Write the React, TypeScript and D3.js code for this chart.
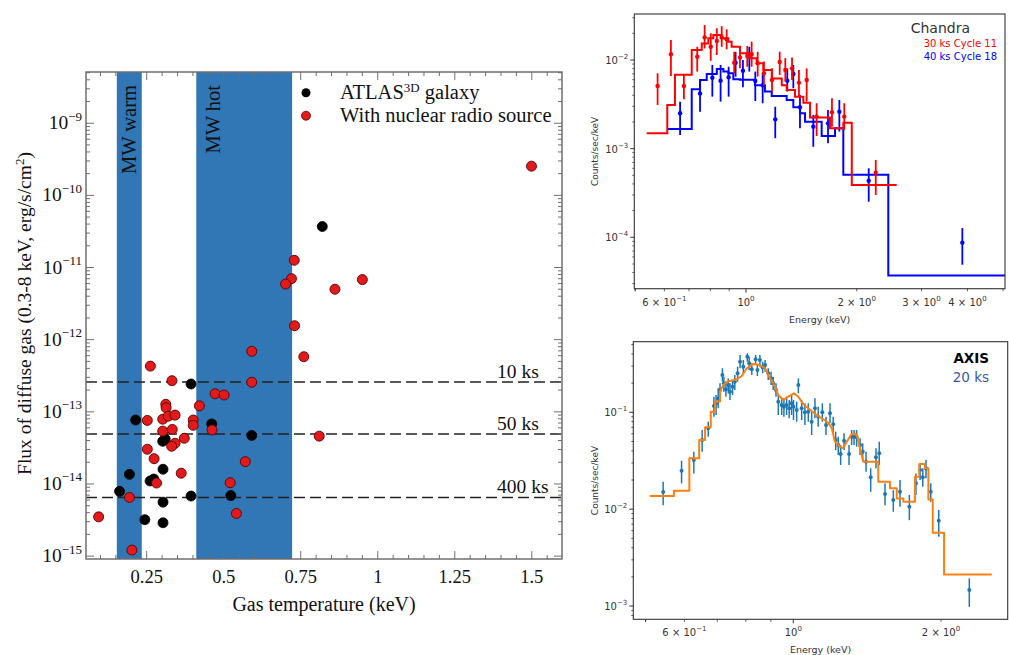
import React from 'react';
import * as d3 from 'd3';

// ---------- left panel: flux of diffuse gas vs gas temperature ----------
// [temperature keV, flux erg/s/cm^2]
const atlasPts: [number, number][] = [
  [0.820, 3.7e-11], [0.394, 2.43e-13], [0.214, 7.7e-14], [0.461, 6.8e-14], [0.591, 4.7e-14],
  [0.310, 4.2e-14], [0.302, 3.9e-14], [0.194, 1.36e-14], [0.303, 1.6e-14], [0.273, 1.17e-14],
  [0.261, 1.1e-14], [0.162, 7.9e-15], [0.394, 6.8e-15], [0.523, 6.9e-15], [0.303, 5.6e-15],
  [0.244, 3.2e-15], [0.303, 2.9e-15],
];
const radioPts: [number, number][] = [
  [1.499, 2.54e-10], [0.729, 1.26e-11], [0.720, 7.0e-12], [0.701, 5.9e-12], [0.861, 5.0e-12],
  [0.950, 6.8e-12], [0.730, 1.56e-12], [0.760, 5.8e-13], [0.810, 4.6e-14], [0.591, 6.9e-13],
  [0.262, 4.3e-13], [0.332, 2.7e-13], [0.591, 2.57e-13], [0.472, 1.78e-13], [0.501, 1.71e-13],
  [0.421, 1.21e-13], [0.312, 1.27e-13], [0.313, 1.14e-13], [0.252, 7.6e-14], [0.302, 7.9e-14],
  [0.320, 8.7e-14], [0.342, 9.0e-14], [0.401, 7.7e-14], [0.401, 6.5e-14], [0.462, 5.6e-14],
  [0.302, 5.4e-14], [0.333, 5.7e-14], [0.372, 4.3e-14], [0.342, 3.66e-14], [0.331, 3.33e-14],
  [0.252, 3.03e-14], [0.274, 2.24e-14], [0.570, 2.04e-14], [0.362, 1.41e-14], [0.282, 1.03e-14],
  [0.521, 1.04e-14], [0.194, 6.5e-15], [0.541, 3.9e-15], [0.094, 3.5e-15], [0.202, 1.21e-15],
];
const mwBandNames = ['MW warm', 'MW hot'];
const mwBandLo = [0.153, 0.411];
const mwBandHi = [0.234, 0.722];
const depthLabels = ['10 ks', '50 ks', '400 ks'];
const depthFlux = [2.59e-13, 4.93e-14, 6.5e-15];
const tempTicks = [0.25, 0.5, 0.75, 1, 1.25, 1.5];
const tempTickLabels = ['0.25', '0.5', '0.75', '1', '1.25', '1.5'];
const fluxDecades = [-15, -14, -13, -12, -11, -10, -9];

// ---------- top right: Chandra spectrum ----------
const chRedEdges = [0.537, 0.611, 0.641, 0.712, 0.758, 0.790, 0.815, 0.859, 0.895, 0.914, 0.963, 1.025,
  1.069, 1.114, 1.175, 1.251, 1.290, 1.359, 1.432, 1.493, 1.692, 1.839, 1.939, 2.569];
const chRedModel = [1.49e-3, 3.1e-3, 6.8e-3, 1.3e-2, 1.54e-2, 1.76e-2, 1.91e-2, 1.76e-2, 1.61e-2, 1.41e-2,
  1.19e-2, 1.05e-2, 9.2e-3, 7.7e-3, 6.2e-3, 5.2e-3, 4.6e-3, 3.86e-3, 3.3e-3, 2.24e-3, 1.70e-3, 1.96e-3, 3.9e-4];
const chBlueEdges = [0.611, 0.712, 0.750, 0.782, 0.833, 0.868, 0.895, 0.924, 0.963, 1.058, 1.126, 1.175,
  1.290, 1.345, 1.402, 1.447, 1.606, 1.746, 1.839, 2.437, 5.06];
const chBlueModel = [1.67e-3, 4.67e-3, 5.95e-3, 6.95e-3, 7.9e-3, 7.4e-3, 7.1e-3, 6.05e-3, 6.0e-3, 5.2e-3,
  4.4e-3, 3.93e-3, 3.54e-3, 2.93e-3, 2.5e-3, 2.01e-3, 1.39e-3, 1.70e-3, 5.06e-4, 3.7e-5];
// [energy, rate, low, high]
const chRedPts: number[][] = [
  [0.575, 5.1e-3, 3.11e-3, 7.08e-3], [0.625, 1.16e-2, 6.6e-3, 1.68e-2], [0.678, 5.1e-3, 3.6e-3, 6.95e-3],
  [0.737, 1.09e-2, 7.4e-3, 1.41e-2], [0.772, 1.80e-2, 1.35e-2, 2.48e-2], [0.802, 1.41e-2, 9.8e-3, 2.0e-2],
  [0.833, 1.64e-2, 1.14e-2, 2.28e-2], [0.859, 1.80e-2, 1.41e-2, 2.41e-2], [0.886, 1.71e-2, 1.32e-2, 2.22e-2],
  [0.929, 9.3e-3, 7.08e-3, 1.24e-2], [0.963, 1.07e-2, 8.05e-3, 1.41e-2], [1.008, 1.11e-2, 8.4e-3, 1.44e-2],
  [1.036, 1.16e-2, 8.4e-3, 1.61e-2], [1.076, 9.2e-3, 6.5e-3, 1.24e-2], [1.119, 7.08e-3, 5.2e-3, 9.6e-3],
  [1.177, 5.95e-3, 4.4e-3, 8.05e-3], [1.235, 9.5e-3, 6.8e-3, 1.24e-2], [1.279, 7.7e-3, 5.7e-3, 1.05e-2],
  [1.334, 8.05e-3, 5.95e-3, 1.07e-2], [1.393, 5.55e-3, 3.86e-3, 7.7e-3], [1.462, 5.95e-3, 3.39e-3, 8.05e-3],
  [1.556, 2.3e-3, 1.39e-3, 3.25e-3], [1.713, 2.57e-3, 1.77e-3, 3.7e-3], [1.850, 2.3e-3, 1.63e-3, 3.25e-3],
  [2.253, 5.36e-4, 3.0e-4, 7.46e-4],
];
const chBluePts: number[][] = [
  [0.662, 2.51e-3, 1.43e-3, 3.39e-3], [0.750, 4.2e-3, 2.61e-3, 5.95e-3], [0.810, 6.3e-3, 3.86e-3, 8.8e-3],
  [0.853, 5.85e-3, 3.39e-3, 8.8e-3], [0.897, 6.38e-3, 3.86e-3, 8.4e-3], [0.937, 9.3e-3, 6.5e-3, 1.24e-2],
  [0.981, 7.57e-3, 4.92e-3, 1.0e-2], [1.021, 1.11e-2, 7.4e-3, 1.41e-2], [1.060, 5.8e-3, 3.45e-3, 7.4e-3],
  [1.110, 5.2e-3, 3.25e-3, 7.08e-3], [1.201, 2.14e-3, 1.31e-3, 2.97e-3], [1.295, 5.85e-3, 4.4e-3, 8.05e-3],
  [1.345, 6.95e-3, 4.8e-3, 8.8e-3], [1.402, 2.93e-3, 1.70e-3, 4.03e-3], [1.524, 1.77e-3, 1.05e-3, 2.4e-3],
  [1.671, 1.93e-3, 1.15e-3, 2.73e-3], [1.794, 2.61e-3, 1.56e-3, 3.54e-3], [2.156, 4.35e-4, 2.52e-4, 6.0e-4],
  [3.874, 8.7e-5, 4.9e-5, 1.27e-4],
];
const chXLabels: [number, string, string][] = [[0.6, '6 × 10', '−1'], [1, '10', '0'], [2, '2 × 10', '0'], [3, '3 × 10', '0'], [4, '4 × 10', '0']];
const chYDecades = [-4, -3, -2];

// ---------- bottom right: AXIS simulated spectrum ----------
const axisModel: [number, number][] = [
  [0.510, 1.365e-2], [0.571, 1.365e-2], [0.571, 1.55e-2], [0.614, 1.55e-2], [0.614, 3.35e-2],
  [0.643, 3.35e-2], [0.643, 5.18e-2], [0.661, 5.18e-2], [0.661, 7.0e-2], [0.679, 7.0e-2],
  [0.679, 0.1015], [0.693, 0.1015], [0.693, 0.129], [0.709, 0.129], [0.709, 0.165], [0.720, 0.19],
  [0.732, 0.207], [0.767, 0.219], [0.785, 0.237], [0.804, 0.285], [0.829, 0.316], [0.855, 0.308],
  [0.876, 0.285], [0.889, 0.243], [0.910, 0.1995], [0.932, 0.151], [0.954, 0.134], [0.977, 0.145],
  [1.003, 0.157], [1.024, 0.145], [1.048, 0.121], [1.073, 0.110], [1.116, 0.0938], [1.151, 0.0847],
  [1.178, 0.0781], [1.198, 0.0684], [1.216, 0.0497], [1.245, 0.0441], [1.264, 0.0425], [1.285, 0.0497],
  [1.315, 0.0597], [1.346, 0.0593], [1.368, 0.0425], [1.389, 0.0309], [1.490, 0.0309], [1.490, 0.0192],
  [1.574, 0.0192], [1.574, 0.0164], [1.625, 0.0164], [1.625, 0.0129], [1.676, 0.0129], [1.676, 0.0119],
  [1.770, 0.0119], [1.770, 0.0216], [1.806, 0.0216], [1.806, 0.0292], [1.855, 0.0292], [1.855, 0.0264],
  [1.885, 0.0264], [1.885, 0.0126], [1.924, 0.0126], [1.924, 0.0057], [2.029, 0.0057], [2.029, 0.00212],
  [2.538, 0.00212],
];
const axisPts: number[][] = [
  [0.543, 0.0150, 0.0110, 0.0192], [0.592, 0.0249, 0.0185, 0.0316], [0.627, 0.0321, 0.0234, 0.0392],
  [0.652, 0.0518, 0.0392, 0.0656], [0.671, 0.0684, 0.056, 0.080], [0.689, 0.116, 0.0901, 0.145],
  [0.696, 0.124, 0.0938, 0.151], [0.703, 0.1396, 0.110, 0.177], [0.709, 0.170, 0.1396, 0.1995],
  [0.717, 0.243, 0.207, 0.285], [0.722, 0.1995, 0.163, 0.233], [0.729, 0.173, 0.145, 0.207],
  [0.737, 0.191, 0.157, 0.224], [0.743, 0.163, 0.134, 0.1995], [0.752, 0.184, 0.151, 0.215],
  [0.760, 0.207, 0.170, 0.243], [0.770, 0.253, 0.207, 0.296], [0.779, 0.333, 0.285, 0.391],
  [0.791, 0.296, 0.253, 0.347], [0.806, 0.375, 0.333, 0.407], [0.813, 0.321, 0.274, 0.375],
  [0.823, 0.278, 0.243, 0.321], [0.838, 0.353, 0.308, 0.391], [0.845, 0.274, 0.237, 0.308],
  [0.855, 0.347, 0.296, 0.391], [0.866, 0.292, 0.253, 0.333], [0.876, 0.308, 0.263, 0.347],
  [0.889, 0.253, 0.215, 0.285], [0.901, 0.224, 0.191, 0.263], [0.910, 0.1995, 0.170, 0.233],
  [0.922, 0.170, 0.145, 0.1995], [0.932, 0.1287, 0.0938, 0.151], [0.947, 0.119, 0.0938, 0.1396],
  [0.957, 0.114, 0.0901, 0.1396], [0.969, 0.119, 0.0938, 0.145], [0.981, 0.110, 0.0867, 0.134],
  [0.992, 0.124, 0.0938, 0.151], [1.001, 0.114, 0.0833, 0.134], [1.016, 0.1056, 0.080, 0.129],
  [1.024, 0.191, 0.157, 0.224], [1.040, 0.110, 0.0833, 0.134], [1.056, 0.100, 0.0739, 0.124],
  [1.073, 0.1014, 0.080, 0.124], [1.090, 0.080, 0.0583, 0.1014], [1.107, 0.110, 0.0867, 0.1396],
  [1.124, 0.0901, 0.071, 0.114], [1.146, 0.100, 0.080, 0.124], [1.166, 0.0739, 0.0583, 0.0901],
  [1.188, 0.0976, 0.077, 0.124], [1.206, 0.0752, 0.0607, 0.0901], [1.220, 0.0518, 0.0408, 0.0631],
  [1.235, 0.0459, 0.0362, 0.056], [1.249, 0.0371, 0.0286, 0.0459], [1.269, 0.0509, 0.0408, 0.0607],
  [1.299, 0.0371, 0.0286, 0.0459], [1.315, 0.056, 0.0459, 0.0656], [1.330, 0.056, 0.0459, 0.0656],
  [1.346, 0.0552, 0.0441, 0.0656], [1.368, 0.0459, 0.0362, 0.0539], [1.385, 0.0392, 0.0309, 0.0479],
  [1.407, 0.0309, 0.0243, 0.0392], [1.438, 0.0213, 0.0151, 0.0264], [1.474, 0.0343, 0.0264, 0.0425],
  [1.497, 0.0377, 0.0286, 0.0497], [1.538, 0.0143, 0.0110, 0.0185], [1.599, 0.0124, 0.0094, 0.0157],
  [1.650, 0.0151, 0.0106, 0.020], [1.724, 0.0106, 0.0077, 0.014], [1.778, 0.0185, 0.014, 0.0234],
  [1.813, 0.0254, 0.020, 0.0297], [1.836, 0.0213, 0.0170, 0.0264], [1.864, 0.0264, 0.0208, 0.0321],
  [1.906, 0.0151, 0.0119, 0.0185], [1.979, 0.00759, 0.00519, 0.0098], [2.284, 0.00146, 0.00098, 0.00193],
];
const axXLabels: [number, string, string][] = [[0.6, '6 × 10', '−1'], [1, '10', '0'], [2, '2 × 10', '0']];
const axYDecades = [-3, -2, -1];

const SERIF = "'Liberation Serif', 'Times New Roman', serif";
const SANS = "'DejaVu Sans', sans-serif";

const decadeMinors = (lo: number, hi: number) => {
  const out: number[] = [];
  for (let d = Math.floor(Math.log10(lo)) - 1; d <= Math.ceil(Math.log10(hi)); d++) {
    for (let k = 2; k <= 9; k++) {
      const v = k * Math.pow(10, d);
      if (v > lo && v < hi) out.push(v);
    }
  }
  return out;
};

function FluxPanel() {
  const x = d3.scaleLinear().domain([0.053, 1.598]).range([86, 562]);
  const y = d3.scaleLog().domain([Math.pow(10, -15.04), Math.pow(10, -8.29)]).range([559, 72]);
  const [L, R] = x.range();
  const [B, T] = y.range();
  const frame = '#6f6f6f';
  const [ylo, yhi] = y.domain();
  const minorY = decadeMinors(ylo, yhi);
  const minorX = d3.range(2, 32).map(i => i * 0.05).filter(v => Math.abs(v / 0.25 - Math.round(v / 0.25)) > 1e-6);

  return (
    <g fontFamily={SERIF}>
      {mwBandNames.map((n, i) => (
        <rect key={n} x={x(mwBandLo[i])} y={T} width={x(mwBandHi[i]) - x(mwBandLo[i])} height={B - T} fill="#3176b5" />
      ))}
      {mwBandNames.map((n, i) => (
        <text key={n} transform={`translate(${x(mwBandLo[i]) + (i === 0 ? 19.5 : 23.5)},${T + 13}) rotate(-90)`}
          textAnchor="end" fontSize={20.5} fill="#111">{n}</text>
      ))}
      {depthFlux.map((f, i) => (
        <g key={depthLabels[i]}>
          <line x1={L} x2={R} y1={y(f)} y2={y(f)} stroke="#222" strokeWidth={1.6} strokeDasharray="11,5" />
          <text x={497} y={y(f) - 4} fontSize={19.5} fill="#111">{depthLabels[i]}</text>
        </g>
      ))}
      {atlasPts.map((p, i) => (
        <circle key={'a' + i} cx={x(p[0])} cy={y(p[1])} r={5} fill="#000" stroke="#000" strokeWidth={0.8} />
      ))}
      {radioPts.map((p, i) => (
        <circle key={'r' + i} cx={x(p[0])} cy={y(p[1])} r={5} fill="#e31a1c" stroke="#5a0000" strokeWidth={0.9} />
      ))}
      {/* frame + ticks */}
      <rect x={L} y={T} width={R - L} height={B - T} fill="none" stroke={frame} strokeWidth={1.5} />
      {fluxDecades.map(d => {
        const yy = y(Math.pow(10, d));
        return (
          <g key={d}>
            <line x1={L} x2={L + 8} y1={yy} y2={yy} stroke={frame} />
            <line x1={R} x2={R - 8} y1={yy} y2={yy} stroke={frame} />
            <text x={82} y={yy + 6} textAnchor="end" fontSize={19.5} fill="#111">
              10<tspan dy={-8.5} fontSize={13}>{'−' + (-d)}</tspan>
            </text>
          </g>
        );
      })}
      {minorY.map((v, i) => (
        <g key={'my' + i}>
          <line x1={L} x2={L + 4} y1={y(v)} y2={y(v)} stroke={frame} />
          <line x1={R} x2={R - 4} y1={y(v)} y2={y(v)} stroke={frame} />
        </g>
      ))}
      {tempTicks.map((t, i) => (
        <g key={t}>
          <line x1={x(t)} x2={x(t)} y1={B} y2={B - 8} stroke={frame} />
          <line x1={x(t)} x2={x(t)} y1={T} y2={T + 8} stroke={frame} />
          <text x={x(t)} y={583} textAnchor="middle" fontSize={18.5} fill="#111">{tempTickLabels[i]}</text>
        </g>
      ))}
      {minorX.map((t, i) => (
        <g key={'mx' + i}>
          <line x1={x(t)} x2={x(t)} y1={B} y2={B - 4} stroke={frame} />
          <line x1={x(t)} x2={x(t)} y1={T} y2={T + 4} stroke={frame} />
        </g>
      ))}
      <text x={(L + R) / 2} y={611} textAnchor="middle" fontSize={20} fill="#111">Gas temperature (keV)</text>
      <text transform={`translate(31,${(T + B) / 2 - 2}) rotate(-90)`} textAnchor="middle" fontSize={19.5} fill="#111">
        Flux of diffuse gas (0.3-8 keV, erg/s/cm<tspan dy={-7} fontSize={13}>2</tspan><tspan dy={7}>)</tspan>
      </text>
      {/* legend */}
      <circle cx={306} cy={92.7} r={4.5} fill="#000" />
      <text x={340} y={99.3} fontSize={20.5} fill="#111">
        ATLAS<tspan dy={-7.5} fontSize={13}>3D</tspan><tspan dy={7.5}> galaxy</tspan>
      </text>
      <circle cx={306} cy={115.7} r={4.5} fill="#e31a1c" stroke="#5a0000" strokeWidth={0.8} />
      <text x={340} y={122.3} fontSize={20.5} fill="#111">With nuclear radio source</text>
    </g>
  );
}

type LogScale = d3.ScaleLogarithmic<number, number>;

function LogFrame({ x, y, xLabels, yDecades, xMajor }: { x: LogScale; y: LogScale; xLabels: [number, string, string][]; yDecades: number[]; xMajor: number[] }) {
  const [L, R] = x.range();
  const [B, T] = y.range();
  const c = '#333';
  const [xlo, xhi] = x.domain();
  const [ylo, yhi] = y.domain();
  const xMinor = decadeMinors(xlo, xhi).concat([0.5]).filter(v => v > xlo && v < xhi && !xMajor.includes(v));
  const yMinor = decadeMinors(ylo, yhi);
  return (
    <g fontFamily={SANS}>
      <rect x={L} y={T} width={R - L} height={B - T} fill="none" stroke={c} strokeWidth={1.1} />
      {yDecades.map(d => {
        const yy = y(Math.pow(10, d));
        return (
          <g key={d}>
            <line x1={L} x2={L - 4} y1={yy} y2={yy} stroke={c} />
            <text x={L - 6} y={yy + 4} textAnchor="end" fontSize={10} fill="#333">
              10<tspan dy={-5} fontSize={7}>{'−' + (-d)}</tspan>
            </text>
          </g>
        );
      })}
      {yMinor.map((v, i) => <line key={i} x1={L} x2={L - 2} y1={y(v)} y2={y(v)} stroke={c} strokeWidth={0.8} />)}
      {xMajor.map(v => <line key={v} x1={x(v)} x2={x(v)} y1={B} y2={B + 4} stroke={c} />)}
      {xMinor.map((v, i) => <line key={'m' + i} x1={x(v)} x2={x(v)} y1={B} y2={B + 2.5} stroke={c} strokeWidth={0.8} />)}
      {xLabels.map(([v, base, exp]) => (
        <text key={v} x={x(v)} y={B + 17} textAnchor="middle" fontSize={10} fill="#333">
          {base}<tspan dy={-5} fontSize={7}>{exp}</tspan>
        </text>
      ))}
      <text x={(L + R) / 2} y={B + 34} textAnchor="middle" fontSize={9.5} fill="#333">Energy (keV)</text>
      <text transform={`translate(598,${(T + B) / 2}) rotate(-90)`} textAnchor="middle" fontSize={9} fill="#333">Counts/sec/keV</text>
    </g>
  );
}

function ErrPts({ x, y, pts, color, r, w }: { x: LogScale; y: LogScale; pts: number[][]; color: string; r: number; w: number }) {
  return (
    <g>
      {pts.map((p, i) => (
        <g key={i}>
          <line x1={x(p[0])} x2={x(p[0])} y1={y(p[2])} y2={y(p[3])} stroke={color} strokeWidth={w} />
          <circle cx={x(p[0])} cy={y(p[1])} r={r} fill={color} />
        </g>
      ))}
    </g>
  );
}

function stepPath(x: LogScale, y: LogScale, edges: number[], vals: number[]) {
  const pts: [number, number][] = vals.map((v, i) => [edges[i], v]);
  pts.push([edges[edges.length - 1], vals[vals.length - 1]]);
  return d3.line<[number, number]>().x(d => x(d[0])).y(d => y(d[1])).curve(d3.curveStepAfter)(pts) || '';
}

function ChandraPanel() {
  const x = d3.scaleLog().domain([0.497, 5.06]).range([634.3, 1005]);
  const y = d3.scaleLog().domain([Math.pow(10, -4.58), Math.pow(10, -1.481)]).range([288.7, 14]);
  return (
    <g>
      <path d={stepPath(x, y, chBlueEdges, chBlueModel)} fill="none" stroke="#0000ff" strokeWidth={2} />
      <ErrPts x={x} y={y} pts={chBluePts} color="#0000ff" r={2.2} w={1.8} />
      <path d={stepPath(x, y, chRedEdges, chRedModel)} fill="none" stroke="#ff0000" strokeWidth={2} />
      <ErrPts x={x} y={y} pts={chRedPts} color="#ff0000" r={2.2} w={1.8} />
      <LogFrame x={x} y={y} xLabels={chXLabels} yDecades={chYDecades} xMajor={[1]} />
      <g fontFamily={SANS} textAnchor="end">
        <text x={970} y={33} fontSize={14} fill="#333">Chandra</text>
        <text x={997} y={47} fontSize={10} fill="#ff0000">30 ks Cycle 11</text>
        <text x={997} y={60} fontSize={10} fill="#0000ff">40 ks Cycle 18</text>
      </g>
    </g>
  );
}

function AxisPanel() {
  const x = d3.scaleLog().domain([0.472, 2.735]).range([633.3, 1007.7]);
  const y = d3.scaleLog().domain([Math.pow(10, -3.137), Math.pow(10, -0.271)]).range([619.3, 341.7]);
  const model = d3.line<[number, number]>().x(d => x(d[0])).y(d => y(d[1]))(axisModel) || '';
  return (
    <g>
      <ErrPts x={x} y={y} pts={axisPts} color="#1f77b4" r={2} w={1.5} />
      <path d={model} fill="none" stroke="#ff7f0e" strokeWidth={2} strokeLinejoin="round" />
      <LogFrame x={x} y={y} xLabels={axXLabels} yDecades={axYDecades} xMajor={[1]} />
      <g fontFamily={SANS} textAnchor="end">
        <text x={989} y={363} fontSize={13.5} fontWeight="bold" fill="#000">AXIS</text>
        <text x={989} y={382} fontSize={13.5} fill="#3a5ba0">20 ks</text>
      </g>
    </g>
  );
}

export default function App() {
  return (
    <svg width={1009} height={655} viewBox="0 0 1009 655"
      style={{ position: 'absolute', left: 0, top: 0, background: '#fff' }}>
      <rect width={1009} height={655} fill="#fff" />
      <FluxPanel />
      <ChandraPanel />
      <AxisPanel />
    </svg>
  );
}
